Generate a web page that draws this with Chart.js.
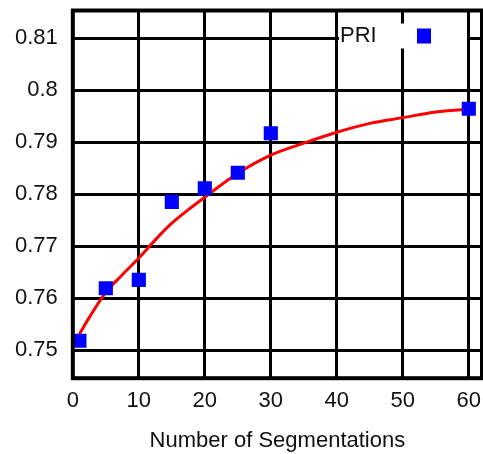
<!DOCTYPE html>
<html>
<head>
<meta charset="utf-8">
<script src="https://cdn.jsdelivr.net/npm/chart.js@4/dist/chart.umd.min.js"></script>
<style>
  html, body { margin: 0; padding: 0; background: #fff; }
  #wrap { width: 483px; height: 454px; }
</style>
</head>
<body>
<div id="wrap"><canvas id="c" width="483" height="454"></canvas></div>
<script>
// ---- data ----
const seriesName = 'PRI';
const segCounts = [1, 5, 10, 15, 20, 25, 30, 60];
const priValues = [0.7518, 0.7619, 0.7635, 0.7785, 0.7811, 0.7841, 0.7917, 0.7964];

// fitted curve
const fitX = [1, 2.5, 5, 7.5, 10, 12.5, 15, 17.5, 20, 25, 30, 35, 40, 45, 50, 55, 60];
const fitY = [0.7531, 0.7563, 0.7611, 0.7645, 0.7677, 0.7712, 0.7744, 0.7770, 0.7794,
              0.7840, 0.7875, 0.7898, 0.7919, 0.7936, 0.7947, 0.7958, 0.7963];

const xTicks = [0, 10, 20, 30, 40, 50, 60];
const yTicks = [0.75, 0.76, 0.77, 0.78, 0.79, 0.80, 0.81];
const xTitle = 'Number of Segmentations';

const FONT = '"Liberation Sans", Arial, sans-serif';

const framePlugin = {
  id: 'frameAndLegend',
  afterDatasetsDraw(chart) {
    const { ctx, chartArea: a } = chart;
    ctx.save();
    ctx.strokeStyle = '#000';
    ctx.lineWidth = 4;
    ctx.strokeRect(a.left, a.top, a.right - a.left, a.bottom - a.top);
    // legend box (top-right, inside the plot)
    const bw = 128, bh = 25;
    const bx = a.right - 15 - bw, by = a.top + 13;
    ctx.fillStyle = '#fff';
    ctx.fillRect(bx, by, bw, bh);
    ctx.fillStyle = '#111';
    ctx.font = '22px ' + FONT;
    ctx.textBaseline = 'middle';
    ctx.textAlign = 'left';
    ctx.fillText(seriesName, bx + 1, by + bh / 2);
    ctx.fillStyle = '#0000ff';
    ctx.fillRect(bx + bw - 50, by + 5, 14, 15);
    ctx.restore();
  }
};

new Chart(document.getElementById('c'), {
  type: 'scatter',
  data: {
    datasets: [
      {
        label: seriesName,
        data: segCounts.map((x, i) => ({ x, y: priValues[i] })),
        showLine: false,
        pointStyle: 'rect',
        pointRadius: 10,
        pointHoverRadius: 10,
        pointBorderWidth: 0,
        backgroundColor: '#0000ff',
        borderColor: '#0000ff'
      },
      {
        label: 'fit',
        data: fitX.map((x, i) => ({ x, y: fitY[i] })),
        showLine: true,
        pointRadius: 0,
        borderColor: '#ff0000',
        borderWidth: 3,
        tension: 0.4,
        cubicInterpolationMode: 'monotone'
      }
    ]
  },
  options: {
    responsive: false,
    animation: false,
    devicePixelRatio: 1,
    layout: { autoPadding: false, padding: { left: 15, top: 10.5, right: 1, bottom: 0 } },
    plugins: {
      legend: { display: false },
      tooltip: { enabled: false }
    },
    scales: {
      x: {
        type: 'linear',
        min: 0,
        max: 62,
        afterBuildTicks: s => { s.ticks = xTicks.map(v => ({ value: v })); },
        ticks: { font: { family: FONT, size: 22 }, color: '#111', padding: 0, callback: v => String(v) },
        grid: { color: '#000', lineWidth: 3, drawTicks: true, tickLength: 10, tickColor: 'rgba(0,0,0,0)' },
        border: { display: false },
        title: { display: true, text: xTitle, font: { family: FONT, size: 22 }, color: '#111', padding: { top: 13, bottom: 0 } }
      },
      y: {
        type: 'linear',
        min: 0.7446,
        max: 0.8153,
        afterBuildTicks: s => { s.ticks = yTicks.map(v => ({ value: v })); },
        ticks: { font: { family: FONT, size: 22, lineHeight: 0.9 }, color: '#111', padding: 0, callback: v => String(+v.toFixed(3)) },
        grid: { color: '#000', lineWidth: 3, drawTicks: true, tickLength: 15, tickColor: 'rgba(0,0,0,0)' },
        border: { display: false }
      }
    }
  },
  plugins: [framePlugin]
});
</script>
</body>
</html>
